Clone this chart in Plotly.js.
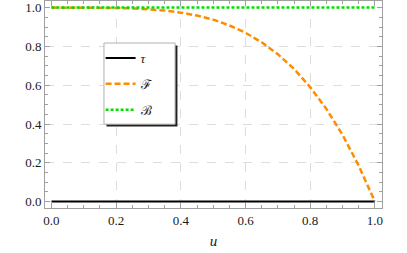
<!DOCTYPE html>
<html><head><meta charset="utf-8">
<script src="https://cdn.plot.ly/plotly-3.0.1.min.js"></script>
<style>html,body{margin:0;padding:0;background:#fff;}#chart{width:407px;height:253px;}</style>
</head><body><div id="chart"></div>
<script>
var u = [0,0.05,0.1,0.15,0.2,0.25,0.3,0.35,0.4,0.45,0.5,0.55,0.6,0.65,0.7,0.75,0.8,0.85,0.9,0.95,1.0];
var tauVals = [0,0,0,0,0,0,0,0,0,0,0,0,0,0,0,0,0,0,0,0,0];
var FVals = [1,1,1,0.999,0.998,0.996,0.992,0.985,0.974,0.959,0.938,0.908,0.87,0.821,0.76,0.684,0.59,0.478,0.344,0.185,0];
var BVals = [1,1,1,1,1,1,1,1,1,1,1,1,1,1,1,1,1,1,1,1,1];
var names = ['<i>\u03c4</i>','\u2131','\u212c'];
var tickVals = [0,0.2,0.4,0.6,0.8,1.0];
var tickText = ['0.0','0.2','0.4','0.6','0.8','1.0'];
var gridVals = [0.2,0.4,0.6,0.8];

var serif = 'Liberation Serif';
var traces = [
  {x:u, y:tauVals, name:names[0], mode:'lines', legendgroup:'a', line:{color:'#000000', width:2}},
  {x:u, y:FVals, name:names[1], mode:'lines', legendgroup:'b', line:{color:'#ff8c00', width:2.5, dash:'6px,3px'}},
  {x:u, y:BVals, name:names[2], mode:'lines', legendgroup:'c', line:{color:'#00e000', width:2.5, dash:'3px,2px'}},
  {x:[null], y:[null], xaxis:'x2', yaxis:'y2', showlegend:false, hoverinfo:'skip'}
];
var axBase = {
  showline:true, linecolor:'#a0a0a0', linewidth:1, mirror:'allticks',
  ticks:'inside', ticklen:5, tickcolor:'#a0a0a0', tickwidth:1,
  tickvals:tickVals, ticktext:tickText, showgrid:false, zeroline:false,
  tickfont:{family:serif, size:13, color:'#1a1a1a'},
  minor:{ticks:'inside', ticklen:3, tickcolor:'#a0a0a0', dtick:0.05, tick0:0, showgrid:false}
};
var layout = {
  width:407, height:253,
  margin:{l:45, r:25, t:1, b:45},
  font:{family:serif},
  paper_bgcolor:'#ffffff', plot_bgcolor:'#ffffff',
  showlegend:true,
  xaxis: Object.assign({}, axBase, {range:[-0.02,1.022],
    title:{text:'<i>u</i>', font:{family:serif, size:15, color:'#1a1a1a'}, standoff:8}}),
  yaxis: Object.assign({}, axBase, {range:[-0.033,1.034]}),
  xaxis2:{overlaying:'x', range:[-0.02,1.022], tickvals:gridVals, showticklabels:false, ticks:'',
    showgrid:true, gridcolor:'#dddddd', griddash:'dash', gridwidth:1, zeroline:false, showline:false},
  yaxis2:{overlaying:'y', range:[-0.033,1.034], tickvals:gridVals, showticklabels:false, ticks:'',
    showgrid:true, gridcolor:'#dddddd', griddash:'dash', gridwidth:1, zeroline:false, showline:false},
  legend:{x:0.165, y:0.797, xanchor:'left', yanchor:'top', bgcolor:'rgba(0,0,0,0)', borderwidth:0,
    traceorder:'grouped', tracegroupgap:6, itemwidth:30,
    font:{family:serif, size:13, color:'#1a1a1a'}},
  shapes:[
    {type:'rect', xref:'paper', yref:'paper', x0:0.1825, x1:0.393, y0:0.394, y1:0.785,
     fillcolor:'#222222', line:{width:0}, layer:'above'},
    {type:'rect', xref:'paper', yref:'paper', x0:0.175, x1:0.386, y0:0.405, y1:0.797,
     fillcolor:'#ffffff', line:{color:'#b0b0b0', width:1}, layer:'above'}
  ]
};
Plotly.newPlot('chart', traces, layout, {displayModeBar:false, staticPlot:true});
</script></body></html>
